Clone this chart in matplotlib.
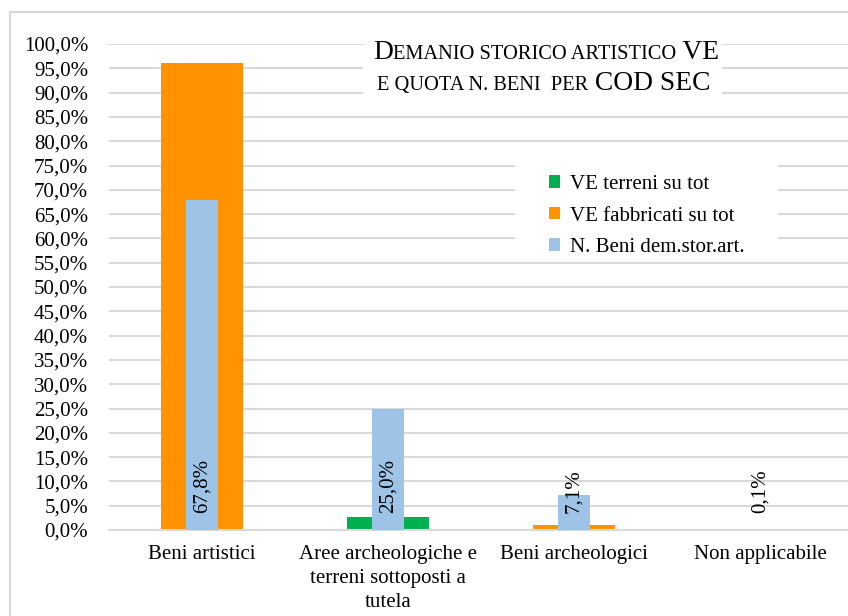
import matplotlib
matplotlib.use("Agg")
import matplotlib.pyplot as plt
from matplotlib.patches import Patch, Rectangle
from matplotlib.transforms import IdentityTransform
import numpy as np

categories = ["Beni artistici", "Aree archeologiche e\nterreni sottoposti a\ntutela",
              "Beni archeologici", "Non applicabile"]
ve_terreni = [0.0, 2.6, 0.0, 0.0]
ve_fabbricati = [96.0, 0.0, 1.0, 0.0]
n_beni = [67.8, 25.0, 7.1, 0.1]
yticks = list(range(0, 101, 5))

GREEN = "#00B050"
ORANGE = "#FF9200"
BLUE = "#9DC3E6"
GRID = "#D9D9D9"
FONT = "Liberation Serif"
FS = 15

W, H = 848, 616
fig = plt.figure(figsize=(W / 100, H / 100), dpi=100)
plt.rcParams['font.family'] = [FONT, 'DejaVu Sans']

# outer chart border
fig.patches.append(Rectangle((10 / W, -0.1), 1.2, 1 - 12 / H + 0.1, transform=fig.transFigure,
                             fill=False, edgecolor=GRID, linewidth=1.5, zorder=0))

left, right, bottom, top = 109, 853, 530, 44
ax = fig.add_axes([left / W, 1 - bottom / H, (right - left) / W, (bottom - top) / H])

x = np.arange(len(categories))
ax.bar(x, ve_terreni, width=0.44, color=GREEN, zorder=2)
ax.bar(x, ve_fabbricati, width=0.44, color=ORANGE, zorder=2)
ax.bar(x, n_beni, width=0.167, color=BLUE, zorder=3)

for xi, v in zip(x, n_beni):
    ax.text(xi, 3.5, f"{v:.1f}%".replace(".", ","), rotation=90, ha="center", va="bottom",
            fontsize=FS, color="black", zorder=5, family=FONT)

ax.set_xlim(-0.5, len(categories) - 0.5)
ax.set_ylim(0, 100)
ax.set_yticks(yticks)
ax.set_yticklabels([f"{t:.1f}%".replace(".", ",") for t in yticks], fontsize=FS, family=FONT)
ax.set_xticks(x)
ax.set_xticklabels(categories, fontsize=FS, family=FONT, linespacing=1.36)
ax.tick_params(axis="both", length=0)
ax.tick_params(axis="y", pad=15)
ax.tick_params(axis="x", pad=11)
ax.grid(axis="y", color=GRID, linewidth=1.5, zorder=0)
ax.set_axisbelow(True)
for s in ["left", "right", "top"]:
    ax.spines[s].set_visible(False)
ax.spines["bottom"].set_color(GRID)
ax.spines["bottom"].set_linewidth(1.5)

# title box (white background)
fig.patches.append(Rectangle((363 / W, 1 - 97 / H), (722 - 363) / W, (97 - 34) / H,
                             transform=fig.transFigure, facecolor="white", edgecolor="none",
                             zorder=4))
# legend box (white background)
fig.patches.append(Rectangle((515 / W, 1 - 258 / H), (778 - 515) / W, (258 - 151) / H,
                             transform=fig.transFigure, facecolor="white", edgecolor="none",
                             zorder=4))

# legend
handles = [Patch(facecolor=GREEN, edgecolor="none", label="VE terreni su tot"),
           Patch(facecolor=ORANGE, edgecolor="none", label="VE fabbricati su tot"),
           Patch(facecolor=BLUE, edgecolor="none", label="N. Beni dem.stor.art.")]
leg = fig.legend(handles=handles, loc="upper left", bbox_to_anchor=(549 / W, 1 - 175 / H),
                 prop={"family": FONT, "size": FS}, frameon=False,
                 handlelength=0.55, handleheight=0.55, handletextpad=0.46, labelspacing=0.6,
                 borderpad=0, borderaxespad=0)
leg.set_zorder(6)

# small-caps title drawn as runs
LARGE, SMALL = 19.8, 14.7
fig.canvas.draw()
renderer = fig.canvas.get_renderer()


def draw_runs(runs, baseline_px_from_top, center_px):
    texts = []
    widths = []
    for s, size in runs:
        t = fig.text(0, 0, s, fontsize=size, family=FONT, va="baseline", ha="left",
                     transform=IdentityTransform(), zorder=7)
        texts.append(t)
        widths.append(t.get_window_extent(renderer).width)
    total = sum(widths)
    xpos = center_px - total / 2
    y = H - baseline_px_from_top
    for t, w in zip(texts, widths):
        t.set_position((xpos, y))
        xpos += w


draw_runs([("D", LARGE), ("EMANIO STORICO ARTISTICO", SMALL), (" VE", LARGE)], 59, 546)
draw_runs([("E QUOTA N. BENI  PER", SMALL), (" COD SEC", LARGE)], 90, 544)

fig.savefig("out.png", dpi=100)
